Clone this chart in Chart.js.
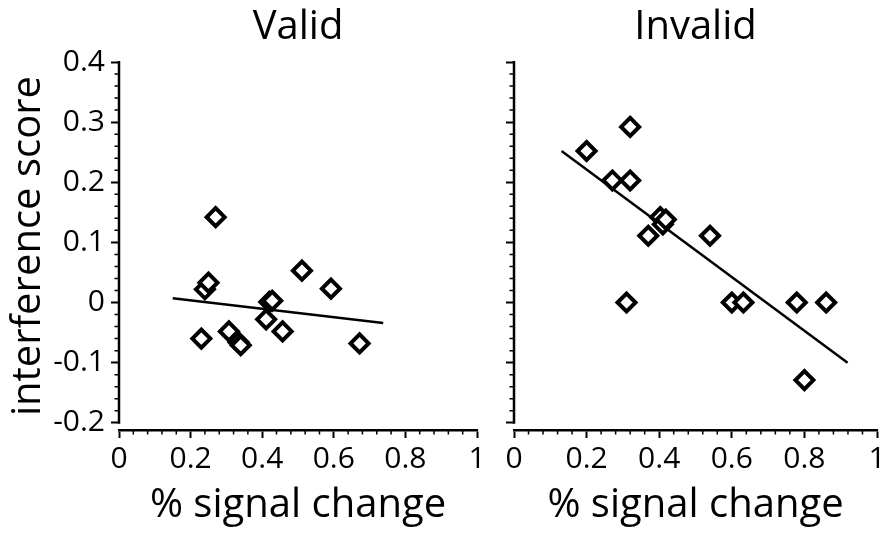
<!DOCTYPE html>
<html>
<head>
<meta charset="utf-8">
<script src="https://cdn.jsdelivr.net/npm/chart.js@4.4.1/dist/chart.umd.min.js"></script>
<style>
  html, body { margin: 0; padding: 0; background: #fff; }
  #wrap { position: relative; width: 892px; height: 540px; }
  .panel { position: absolute; top: 0; height: 540px; }
  #left { left: 0; width: 490px; }
  #right { left: 490px; width: 402px; }
</style>
</head>
<body>
<div id="wrap">
  <div class="panel" id="left"><canvas id="valid-chart"></canvas></div>
  <div class="panel" id="right"><canvas id="invalid-chart"></canvas></div>
</div>
<script>
// values
var validX = [0.230, 0.240, 0.250, 0.270, 0.307, 0.334, 0.340, 0.411, 0.420, 0.428, 0.457, 0.511, 0.592, 0.672];
var validY = [-0.060, 0.022, 0.033, 0.142, -0.048, -0.066, -0.071, -0.028, 0.001, 0.003, -0.048, 0.053, 0.023, -0.068];
var validFitX = [0.150, 0.738];
var validFitY = [0.007, -0.034];

var invalidX = [0.200, 0.271, 0.310, 0.320, 0.320, 0.370, 0.403, 0.410, 0.418, 0.540, 0.600, 0.632, 0.779, 0.800, 0.860];
var invalidY = [0.252, 0.203, 0.000, 0.203, 0.292, 0.111, 0.142, 0.130, 0.138, 0.111, 0.000, 0.000, 0.000, -0.129, 0.000];
var invalidFitX = [0.131, 0.919];
var invalidFitY = [0.252, -0.100];

var xTicks = [0, 0.2, 0.4, 0.6, 0.8, 1];
var xTickLabels = ["0", "0.2", "0.4", "0.6", "0.8", "1"];
var yTicks = [-0.2, -0.1, 0, 0.1, 0.2, 0.3, 0.4];
var yTickLabels = ["-0.2", "-0.1", "0", "0.1", "0.2", "0.3", "0.4"];

var FONT = "'Open Sans', 'DejaVu Sans', sans-serif";

function pairs(xs, ys) {
    return xs.map(function (x, i) { return { x: x, y: ys[i] }; });
}

function labelFor(values, labels) {
    return function (value) {
        for (var i = 0; i < values.length; i++) {
            if (Math.abs(values[i] - value) < 1e-9) return labels[i];
        }
        return "";
    };
}

// y axis line (stops at -0.2) and the short minor ticks
var axisExtras = {
    id: 'axisExtras',
    afterDraw: function (chart) {
        var ctx = chart.ctx, xs = chart.scales.x, ys = chart.scales.y;
        var left = chart.chartArea.left, bottom = chart.chartArea.bottom;
        ctx.save();
        ctx.strokeStyle = '#000';
        ctx.lineCap = 'butt';
        ctx.lineWidth = 2.5;
        ctx.beginPath();
        ctx.moveTo(left, ys.getPixelForValue(0.4) - 1);
        ctx.lineTo(left, ys.getPixelForValue(-0.2) + 1);
        ctx.stroke();
        ctx.lineWidth = 1.5;
        ctx.beginPath();
        for (var k = -10; k <= 20; k++) {
            if (k % 5 === 0) continue;
            var py = ys.getPixelForValue(k * 0.02);
            ctx.moveTo(left - 4.5, py);
            ctx.lineTo(left, py);
        }
        for (var j = 1; j < 25; j++) {
            if (j % 5 === 0) continue;
            var px = xs.getPixelForValue(j * 0.04);
            ctx.moveTo(px, bottom);
            ctx.lineTo(px, bottom + 4.5);
        }
        ctx.stroke();
        ctx.restore();
    }
};

function makeChart(canvasId, title, xs, ys, fitX, fitY, opts) {
    var ctx = document.getElementById(canvasId).getContext('2d');
    return new Chart(ctx, {
        type: 'scatter',
        data: {
            datasets: [{
                label: title,
                data: pairs(xs, ys),
                pointStyle: 'rectRot',
                pointRadius: 9,
                pointHoverRadius: 9,
                pointBorderWidth: 4,
                pointBorderColor: '#000',
                pointBackgroundColor: '#fff',
                order: 1
            }, {
                type: 'line',
                label: 'fit',
                data: pairs(fitX, fitY),
                borderColor: '#000',
                borderWidth: 2.5,
                pointRadius: 0,
                fill: false,
                order: 2
            }]
        },
        options: {
            responsive: true,
            maintainAspectRatio: false,
            animation: false,
            layout: { padding: { left: 0, right: opts.padRight, top: 0, bottom: 0 } },
            plugins: {
                legend: { display: false },
                tooltip: { enabled: false },
                title: {
                    display: true,
                    text: title,
                    fullSize: false,
                    color: '#000',
                    font: { family: FONT, size: 40, weight: 'normal', lineHeight: 1.2 },
                    padding: { top: 4, bottom: 10 }
                }
            },
            scales: {
                x: {
                    type: 'linear',
                    min: 0,
                    max: 1,
                    afterBuildTicks: function (scale) {
                        scale.ticks = xTicks.map(function (v) { return { value: v }; });
                    },
                    afterFit: function (scale) { scale.height = 110; },
                    border: { display: true, color: '#000', width: 2.5 },
                    grid: { drawOnChartArea: false, drawTicks: true, tickLength: 8, tickWidth: 2, tickColor: '#000' },
                    ticks: {
                        color: '#000',
                        padding: 3,
                        maxRotation: 0,
                        font: { family: FONT, size: 30 },
                        callback: labelFor(xTicks, xTickLabels)
                    },
                    title: {
                        display: true,
                        text: '% signal change',
                        color: '#000',
                        font: { family: FONT, size: 40 },
                        padding: { top: 0, bottom: 10 }
                    }
                },
                y: {
                    type: 'linear',
                    min: -0.212,
                    max: 0.4,
                    afterBuildTicks: function (scale) {
                        scale.ticks = yTicks.map(function (v) { return { value: v }; });
                    },
                    afterFit: function (scale) { scale.width = opts.yWidth; },
                    border: { display: false },
                    grid: { drawOnChartArea: false, drawTicks: true, tickLength: 8, tickWidth: 2, tickColor: '#000' },
                    ticks: {
                        display: opts.showYLabels,
                        color: '#000',
                        padding: 6,
                        font: { family: FONT, size: 30 },
                        callback: labelFor(yTicks, yTickLabels)
                    },
                    title: {
                        display: opts.showYLabels,
                        text: 'interference score',
                        color: '#000',
                        font: { family: FONT, size: 40 },
                        padding: { top: 5, bottom: 0 }
                    }
                }
            }
        },
        plugins: [axisExtras]
    });
}

makeChart('valid-chart', 'Valid', validX, validY, validFitX, validFitY,
    { yWidth: 119, padRight: 9, showYLabels: true });
makeChart('invalid-chart', 'Invalid', invalidX, invalidY, invalidFitX, invalidFitY,
    { yWidth: 24, padRight: 15, showYLabels: false });
</script>
</body>
</html>
